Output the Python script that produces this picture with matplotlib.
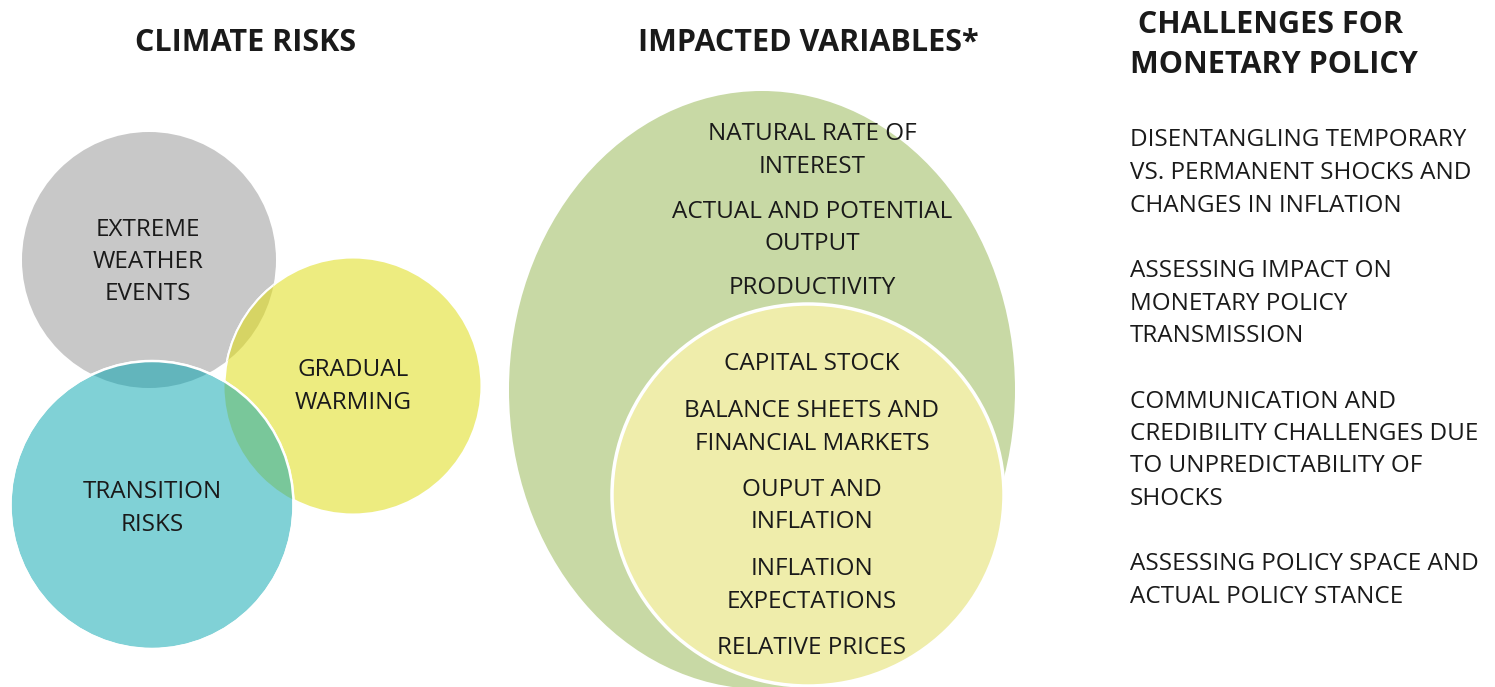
import matplotlib
matplotlib.use("Agg")
import matplotlib.pyplot as plt
from matplotlib.patches import Ellipse

# ---- data (text content) ----
titles = ["CLIMATE RISKS", "IMPACTED VARIABLES*", " CHALLENGES FOR\nMONETARY POLICY"]
risk_labels = ["EXTREME\nWEATHER\nEVENTS", "GRADUAL\nWARMING", "TRANSITION\nRISKS"]
outer_vars = ["NATURAL RATE OF\nINTEREST", "ACTUAL AND POTENTIAL\nOUTPUT", "PRODUCTIVITY"]
inner_vars = ["CAPITAL STOCK", "BALANCE SHEETS AND\nFINANCIAL MARKETS", "OUPUT AND\nINFLATION",
              "INFLATION\nEXPECTATIONS", "RELATIVE PRICES"]
challenges = ["DISENTANGLING TEMPORARY\nVS. PERMANENT SHOCKS AND\nCHANGES IN INFLATION",
              "ASSESSING IMPACT ON\nMONETARY POLICY\nTRANSMISSION",
              "COMMUNICATION AND\nCREDIBILITY CHALLENGES DUE\nTO UNPREDICTABILITY OF\nSHOCKS",
              "ASSESSING POLICY SPACE AND\nACTUAL POLICY STANCE"]

# ---- styling ----
FONT = "Open Sans"
TXT = "#1a1a1a"
c_gray, c_yellow, c_teal = "#C8C8C8", "#EDEC80", "#80D1D6"
c_gray_yellow, c_gray_teal, c_yellow_teal = "#D6D464", "#62B5BC", "#79C79A"
c_outer, c_inner = "#C8D9A5", "#EFEDAB"

W, H = 1495, 687
fig = plt.figure(figsize=(W / 100, H / 100), dpi=100)
ax = fig.add_axes([0, 0, 1, 1])
ax.set_xlim(0, W)
ax.set_ylim(H, 0)
ax.axis("off")

# circles: (cx, cy, w, h)
g = (149, 260, 254, 256)
y = (353, 386, 257, 257)
t = (152, 505, 283, 288)

def ell(spec, color, z, edge="white", lw=1.5):
    e = Ellipse((spec[0], spec[1]), spec[2], spec[3], facecolor=color,
                edgecolor=edge, linewidth=lw, zorder=z)
    ax.add_patch(e)
    return e

def clip_to(artist, spec):
    artist.set_clip_path(Ellipse((spec[0], spec[1]), spec[2], spec[3], transform=ax.transData))

ell(g, c_gray, 1, edge="none")
ell(y, c_yellow, 2)
clip_to(ell(y, c_gray_yellow, 3, edge="none"), g)
clip_to(ell(y, "none", 3.5), g)
ell(t, c_teal, 4)
clip_to(ell(t, c_gray_teal, 5, edge="none"), g)
clip_to(ell(t, c_yellow_teal, 5, edge="none"), y)
ell(t, "none", 6, lw=1.8)

# big circles
ell((762, 390, 506, 598), c_outer, 1, edge="none")
ell((808, 495, 392, 382), c_inner, 2, lw=2.5)

BODY = 17.5
CAP = 17  # approx cap height in px for baseline placement

def lines(x, yc, s, step=32.5, size=BODY, weight="normal", ha="center"):
    """Place each line of s; yc is the cap-centre of the first line."""
    for i, ln in enumerate(s.split("\n")):
        ax.text(x, yc + i * step + CAP * size / BODY / 2, ln, ha=ha, va="baseline",
                fontsize=size, fontweight=weight, family=[FONT, "DejaVu Sans"],
                color=TXT, zorder=10)

# titles
lines(246, 40, titles[0], size=22, weight="bold")
lines(808, 40, titles[1], size=22, weight="bold")
lines(1130, 22, titles[2], step=40, size=22, weight="bold", ha="left")

# risk labels
lines(148, 227, risk_labels[0])
lines(353, 368, risk_labels[1])
lines(152, 490, risk_labels[2])

# outer variables
step = 32.5
yy = 132
for s in outer_vars:
    lines(812, yy, s)
    yy += step * (s.count("\n") + 1) + 12
yy = 362
for s in inner_vars:
    lines(812, yy, s)
    yy += step * (s.count("\n") + 1) + 14

# challenges
yy = 138
for s in challenges:
    lines(1130, yy, s, ha="left")
    yy += step * (s.count("\n") + 2) + 0.5

fig.savefig("out.png", dpi=100)
